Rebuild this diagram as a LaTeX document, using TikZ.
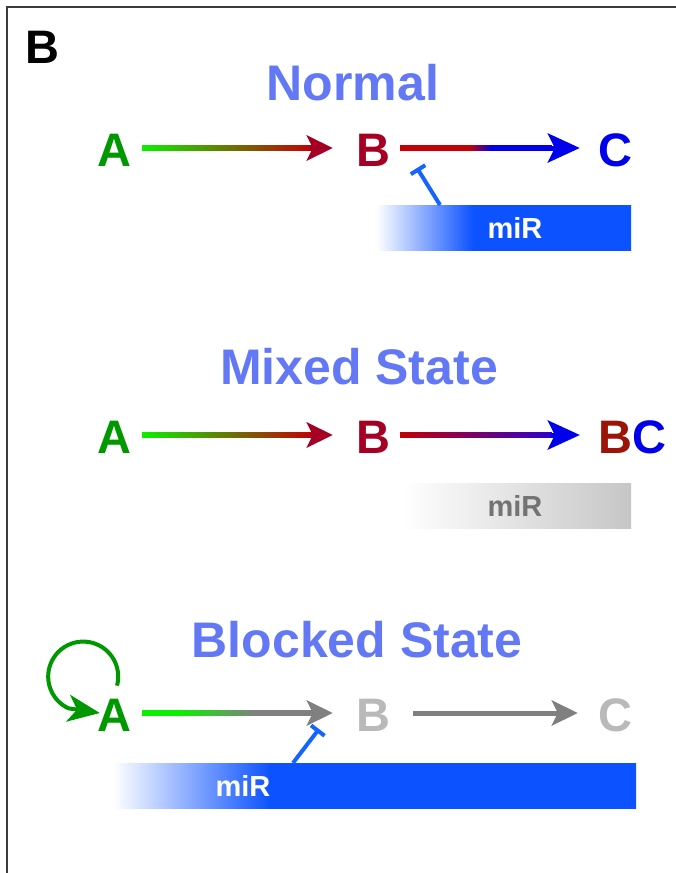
\documentclass[tikz,border=0pt]{standalone}
\usepackage{fontspec}
\setmainfont{Liberation Sans}
\usetikzlibrary{arrows.meta,calc}

\definecolor{titleblue}{RGB}{98,120,245}
\definecolor{agreen}{RGB}{0,152,0}
\definecolor{bred}{RGB}{165,0,35}
\definecolor{bcred}{RGB}{155,20,5}
\definecolor{cblue}{RGB}{0,0,235}
\definecolor{fadegray}{RGB}{185,185,185}
\definecolor{bargray}{RGB}{198,198,198}
\definecolor{arrowgray}{RGB}{128,128,128}
\definecolor{mirblue}{RGB}{12,82,255}
\definecolor{inhblue}{RGB}{20,100,255}
\definecolor{shaftgreen}{RGB}{10,240,0}
\definecolor{shaftred}{RGB}{195,0,5}
\definecolor{shaftpurple}{RGB}{45,0,205}
\definecolor{framegray}{RGB}{60,60,60}

\pgfdeclarehorizontalshading{redtoblue}{100bp}{color(0bp)=(shaftred); color(48bp)=(shaftred); color(55bp)=(cblue); color(100bp)=(cblue)}
\pgfdeclarehorizontalshading{greentogray}{100bp}{color(0bp)=(shaftgreen); color(36bp)=(shaftgreen); color(58bp)=(arrowgray); color(100bp)=(arrowgray)}
\pgfdeclarehorizontalshading{mirfadeN}{100bp}{color(0bp)=(white); color(25bp)=(white); color(44bp)=(mirblue); color(100bp)=(mirblue)}
\pgfdeclarehorizontalshading{mirfadeB}{100bp}{color(0bp)=(white); color(25bp)=(white); color(40bp)=(mirblue); color(100bp)=(mirblue)}

\begin{document}
\begin{tikzpicture}[x=1pt,y=1pt,
   letter/.style={inner sep=0pt,font=\fontsize{47}{47}\selectfont\bfseries},
   title/.style={inner sep=0pt,text=titleblue,font=\fontsize{50}{50}\selectfont\bfseries},
   mirbar/.style={inner sep=0pt,minimum height=45pt,anchor=north west,shade},
   mirtext/.style={inner sep=0pt,font=\fontsize{29}{29}\selectfont\bfseries},
   head/.style={line width=5pt,-{Stealth[length=26pt,width=25pt,inset=6pt]}},
   bighead/.style={line width=5pt,-{Stealth[length=32pt,width=29pt,inset=7pt]}},
   inhib/.style={draw=inhblue,line width=4pt,-{Bar[width=17pt]}}]
   \useasboundingbox (0,0) rectangle (676,-873);
   \draw[framegray,line width=1.3pt] (7,-873) -- (7,-7) -- (676,-7);
   \node[inner sep=0pt,font=\fontsize{47}{47}\selectfont\bfseries] (panel) at (42,-47) {B};

   % normal
   \node[title] (tnormal) at (353,-83) {Normal};
   \node[letter,text=agreen] (A1) at (114,-150) {A};
   \node[letter,text=bred]   (B1) at (373,-150) {B};
   \node[letter,text=cblue]  (C1) at (615,-150) {C};
   \shade[left color=shaftgreen,right color=shaftred] ($(A1.east)+(11,-0.5)$) rectangle ($(B1.west)+(-44,4.5)$);
   \draw[head,bred] ($(B1.west)+(-46,2)$) -- ($(B1.west)+(-23,2)$);
   \shade[shading=redtoblue] ($(B1.east)+(10,-0.5)$) rectangle ($(C1.west)+(-46,4.5)$);
   \draw[bighead,cblue] ($(C1.west)+(-48,2)$) -- ($(C1.west)+(-18,2)$);
   \node[mirbar,shading=mirfadeN,minimum width=255pt] (mir1) at (376,-205) {};
   \node[mirtext,text=white] at ([xshift=139pt]mir1.west) {miR};
   \coordinate (hit1) at (417,-168);
   \draw[inhib] ([xshift=64pt]mir1.north west) -- (hit1);

   % mixed
   \node[title] (tmixed) at (359,-367) {Mixed State};
   \node[letter,text=agreen] (A2) at (114,-437) {A};
   \node[letter,text=bred]   (B2) at (373,-437) {B};
   \node[letter] (BC2) at (632,-437) {\textcolor{bcred}{B}\textcolor{cblue}{C}};
   \shade[left color=shaftgreen,right color=shaftred] ($(A2.east)+(11,-0.5)$) rectangle ($(B2.west)+(-44,4.5)$);
   \draw[head,bred] ($(B2.west)+(-46,2)$) -- ($(B2.west)+(-23,2)$);
   \shade[left color=shaftred,right color=shaftpurple] ($(B2.east)+(10,-0.5)$) rectangle ($(BC2.west)+(-46,4.5)$);
   \draw[bighead,cblue] ($(BC2.west)+(-48,2)$) -- ($(BC2.west)+(-18,2)$);
   \node[mirbar,left color=white,right color=bargray,minimum width=229pt] (mir2) at (402,-483) {};
   \node[mirtext,text=arrowgray!90!black] at ([xshift=113pt]mir2.west) {miR};

   % blocked
   \node[title] (tblocked) at (357,-640) {Blocked State};
   \node[letter,text=agreen]   (A3) at (114,-715) {A};
   \node[letter,text=fadegray] (B3) at (373,-715) {B};
   \node[letter,text=fadegray] (C3) at (615,-715) {C};
   \draw[agreen,line width=4pt,-{Stealth[length=32pt,width=27pt,inset=9pt]}]
      ([shift={(3,13)}]A3.north) arc[start angle=-15,end angle=245,x radius=35pt,y radius=35pt]
      -- ([shift={(3,2)}]A3.west);
   \shade[shading=greentogray] ($(A3.east)+(11,-0.5)$) rectangle ($(B3.west)+(-44,4.5)$);
   \draw[head,arrowgray] ($(B3.west)+(-46,2)$) -- ($(B3.west)+(-23,2)$);
   \draw[arrowgray,line width=5pt] ($(B3.east)+(23,2)$) -- ($(C3.west)+(-42,2)$);
   \draw[head,arrowgray] ($(C3.west)+(-44,2)$) -- ($(C3.west)+(-20,2)$);
   \node[mirbar,shading=mirfadeB,minimum width=523pt] (mir3) at (113,-763) {};
   \node[mirtext,text=white] at ([xshift=130pt]mir3.west) {miR};
   \coordinate (hit3) at (319,-729);
   \draw[inhib] ([xshift=180pt]mir3.north west) -- (hit3);
\end{tikzpicture}
\end{document}
